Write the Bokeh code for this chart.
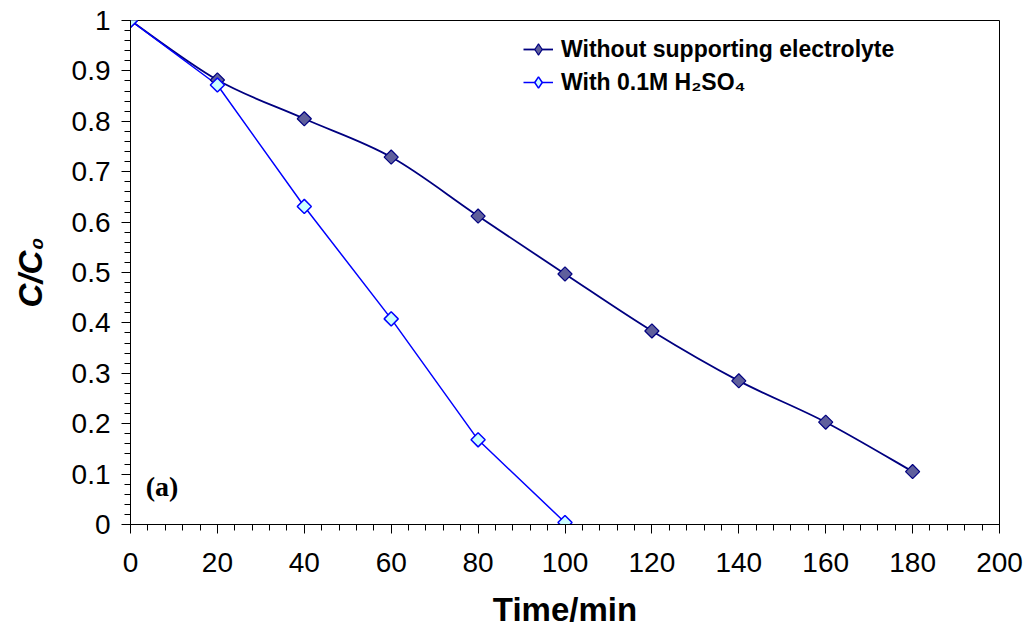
import numpy as np
from bokeh.plotting import figure
from bokeh.models import (Range1d, FixedTicker, CustomJSTickFormatter, Legend, LegendItem,
                          Label)
from bokeh.embed import file_html
from bokeh.resources import INLINE

# ---- data ----
time_no_electrolyte = [0, 20, 40, 60, 80, 100, 120, 140, 160, 180]
c_no_electrolyte = [1.0, 0.882, 0.805, 0.729, 0.612, 0.497, 0.384, 0.285, 0.203, 0.105]
time_h2so4 = [0, 20, 40, 60, 80, 100]
c_h2so4 = [1.0, 0.872, 0.631, 0.408, 0.168, 0.004]

label_no_electrolyte = "Without supporting electrolyte"
label_h2so4 = "With 0.1M H₂SO₄"

x_ticks = [0, 20, 40, 60, 80, 100, 120, 140, 160, 180, 200]
y_ticks = [0, 0.1, 0.2, 0.3, 0.4, 0.5, 0.6, 0.7, 0.8, 0.9, 1.0]
x_minor = [i * 4 for i in range(51)]
y_minor = [round(i * 0.02, 2) for i in range(51)]

FONT = "Liberation Sans"

p = figure(width=1029, height=630, output_backend="svg", toolbar_location=None,
           x_range=Range1d(0, 200), y_range=Range1d(0, 1),
           min_border_left=130, min_border_right=30, min_border_top=20, min_border_bottom=106)
p.background_fill_color = "white"
p.border_fill_color = "white"
p.outline_line_color = "black"
p.outline_line_width = 1
p.xgrid.visible = False
p.ygrid.visible = False

# ---- smoothed line (Excel-like) for series 1 ----
xs = np.array(time_no_electrolyte, dtype=float)
ys = np.array(c_no_electrolyte, dtype=float)
n = len(xs)
x0, y0, x1, y1, cx0, cy0, cx1, cy1 = [], [], [], [], [], [], [], []
for i in range(n - 1):
    pm = i - 1 if i > 0 else i
    pp = i + 2 if i + 2 < n else i + 1
    x0.append(xs[i]); y0.append(ys[i]); x1.append(xs[i + 1]); y1.append(ys[i + 1])
    cx0.append(xs[i] + (xs[i + 1] - xs[pm]) / 6); cy0.append(ys[i] + (ys[i + 1] - ys[pm]) / 6)
    cx1.append(xs[i + 1] - (xs[pp] - xs[i]) / 6); cy1.append(ys[i + 1] - (ys[pp] - ys[i]) / 6)
p.bezier(x0=x0, y0=y0, x1=x1, y1=y1, cx0=cx0, cy0=cy0, cx1=cx1, cy1=cy1,
         line_color="#000080", line_width=1.8)

l2 = p.line(time_h2so4, c_h2so4, line_color="#0000FF", line_width=1.5)

sc1 = p.scatter(time_no_electrolyte, c_no_electrolyte, marker="square", angle=np.pi / 4,
                size=10, fill_color="#5F5F9C", line_color="#000080", line_width=1.2)
sc2 = p.scatter(time_h2so4, c_h2so4, marker="square", angle=np.pi / 4,
                size=10, fill_color="#CCFFFF", line_color="#0000FF", line_width=1.5)

# legend proxies (a single NaN point: nothing drawn in the plot, only legend swatches)
nan = [float("nan")]
lg_line1 = p.line(x=nan, y=nan, line_color="#000080", line_width=1.8)
lg_mark1 = p.scatter(x=nan, y=nan, marker="diamond", fill_color="#5F5F9C",
                     line_color="#000080", line_width=1.2)
lg_line2 = p.line(x=nan, y=nan, line_color="#0000FF", line_width=1.5)
lg_mark2 = p.scatter(x=nan, y=nan, marker="diamond", fill_color="#CCFFFF",
                     line_color="#0000FF", line_width=1.5)

# ---- axes ----
p.xaxis.ticker = FixedTicker(ticks=x_ticks, minor_ticks=x_minor)
p.yaxis.ticker = FixedTicker(ticks=y_ticks, minor_ticks=y_minor)
p.yaxis.formatter = CustomJSTickFormatter(code="return (Math.round(tick*10)/10).toString();")
for ax in (p.xaxis, p.yaxis):
    ax.axis_line_color = "black"
    ax.axis_line_width = 1
    ax.major_tick_line_color = "black"
    ax.minor_tick_line_color = "black"
    ax.major_tick_in = 0
    ax.major_tick_out = 9
    ax.minor_tick_in = 0
    ax.minor_tick_out = 6
    ax.major_label_text_font = FONT
    ax.major_label_text_font_size = "28px"
    ax.major_label_text_color = "black"
    ax.axis_label_text_font = FONT
    ax.axis_label_text_font_size = "33px"
    ax.axis_label_text_font_style = "bold"
    ax.axis_label_text_color = "black"

p.xaxis.axis_label = "Time/min"
p.xaxis.major_label_standoff = 19
p.xaxis.axis_label_standoff = 16
p.yaxis.axis_label = "C/C₀"
p.yaxis.axis_label_text_font_style = "bold italic"
p.yaxis.major_label_standoff = 11
p.yaxis.axis_label_standoff = 20

# ---- legend ----
legend = Legend(items=[LegendItem(label=label_no_electrolyte, renderers=[lg_line1, lg_mark1]),
                       LegendItem(label=label_h2so4, renderers=[lg_line2, lg_mark2])],
                location=(393, 428))
legend.padding = 0
legend.margin = 0
legend.spacing = 5
legend.glyph_width = 30
legend.glyph_height = 28
legend.label_height = 28
legend.label_standoff = 8
legend.border_line_color = None
legend.background_fill_alpha = 0
legend.label_text_font = FONT
legend.label_text_font_size = "23px"
legend.label_text_font_style = "bold"
legend.label_text_color = "black"
p.add_layout(legend, "center")

p.add_layout(Label(x=3.5, y=0.075, text="(a)", text_font="Liberation Serif",
                   text_font_size="28px", text_font_style="bold", text_baseline="middle",
                   text_color="black"))

open("out.html", "w").write(file_html(p, INLINE))
